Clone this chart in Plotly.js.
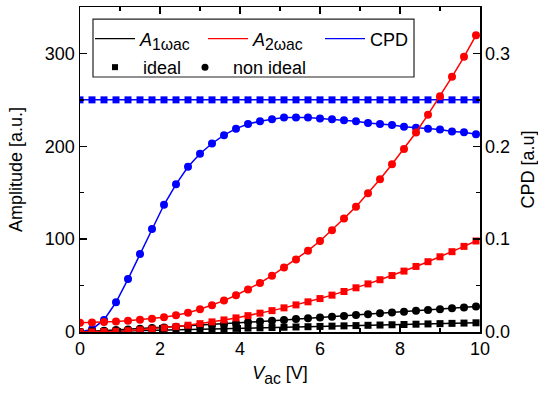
<!DOCTYPE html>
<html>
<head>
<meta charset="utf-8">
<script src="https://cdn.plot.ly/plotly-3.0.1.min.js"></script>
<style>
  html, body { margin: 0; padding: 0; background: #fff; }
  #chart { width: 538px; height: 394px; }
</style>
</head>
<body>
<div id="chart"></div>
<script>
// AC bias amplitude sweep (V)
const vac = [0.0, 0.3, 0.6, 0.9, 1.2, 1.5, 1.8, 2.1, 2.4, 2.7, 3.0, 3.3, 3.6, 3.9, 4.2, 4.5, 4.8,
             5.1, 5.4, 5.7, 6.0, 6.3, 6.6, 6.9, 7.2, 7.5, 7.8, 8.1, 8.4, 8.7, 9.0, 9.3, 9.6, 9.9];

// First harmonic amplitude A1ωac (a.u.)
const a1Ideal = [0.0, 0.3, 0.6, 0.9, 1.2, 1.5, 1.8, 2.1, 2.4, 2.7, 3.0, 3.3, 3.6, 3.9, 4.2, 4.5, 4.8,
                 5.1, 5.4, 5.7, 6.0, 6.3, 6.6, 6.9, 7.2, 7.5, 7.8, 8.1, 8.4, 8.7, 9.0, 9.3, 9.6, 9.9];
const a1NonIdeal = [0.0, 0.7, 1.4, 2.1, 2.8, 3.5, 4.2, 4.9, 5.6, 6.3, 7.0, 7.7, 8.6, 9.5, 10.4, 11.2, 12.0,
                    13.0, 13.9, 14.8, 15.6, 16.5, 17.3, 18.3, 19.2, 20.1, 21.0, 21.9, 22.8, 23.7, 24.6, 25.5, 26.5, 27.5];

// Second harmonic amplitude A2ωac (a.u.)
const a2Ideal = [0.0, 0.1, 0.4, 0.8, 1.4, 2.3, 3.2, 4.4, 5.8, 7.3, 9.0, 10.9, 13.0, 15.2, 17.6, 20.3, 23.0,
                 26.0, 29.2, 32.5, 36.0, 39.7, 43.6, 47.6, 51.8, 56.3, 60.8, 65.6, 70.6, 75.7, 81.0, 86.5, 92.2, 98.0];
const a2NonIdeal = [10.0, 10.3, 10.8, 11.4, 12.2, 13.2, 14.4, 16.0, 18.0, 20.8, 24.5, 28.8, 33.8, 39.6, 45.8, 52.8, 60.7,
                    69.4, 78.0, 87.6, 98.0, 109.6, 122.2, 135.0, 149.4, 164.5, 180.6, 197.2, 214.8, 234.0, 253.8, 274.8, 296.4, 319.5];

// Contact potential difference (a.u.)
const cpdIdeal = [0.25, 0.25, 0.25, 0.25, 0.25, 0.25, 0.25, 0.25, 0.25, 0.25, 0.25, 0.25, 0.25, 0.25, 0.25, 0.25, 0.25,
                  0.25, 0.25, 0.25, 0.25, 0.25, 0.25, 0.25, 0.25, 0.25, 0.25, 0.25, 0.25, 0.25, 0.25, 0.25, 0.25, 0.25];
const cpdNonIdeal = [0.000, 0.003, 0.013, 0.032, 0.057, 0.084, 0.111, 0.137, 0.159, 0.178, 0.192, 0.203, 0.212, 0.219, 0.224, 0.227, 0.229,
                     0.231, 0.231, 0.231, 0.230, 0.229, 0.228, 0.227, 0.225, 0.224, 0.223, 0.221, 0.220, 0.219, 0.218, 0.216, 0.215, 0.213];

// Legend labels (subscripts set a little larger than the default 70%)
const SUB = (t) => '<span style="font-size:22.5px"><sub>' + t + '</sub></span>';
const seriesNames = ['<i>A</i>' + SUB('1ωac'), '<i>A</i>' + SUB('2ωac'), 'CPD'];
const caseNames = ['ideal', 'non ideal'];

const BLACK = '#000000', RED = '#ff0000', BLUE = '#0000ff';
const FONT = 'Liberation Sans, Arial, Helvetica, sans-serif';

function series(y, color, symbol, yaxis) {
  return {
    x: vac, y: y, yaxis: yaxis, type: 'scatter', mode: 'lines+markers',
    line: { color: color, width: 1.5 },
    marker: { color: color, symbol: symbol, size: symbol === 'square' ? 7 : 8 },
    showlegend: false, hoverinfo: 'skip'
  };
}

function lineKey(name, color, legend) {
  return { x: [null], y: [null], mode: 'lines', name: name, line: { color: color, width: 1.2 }, legend: legend };
}
function markerKey(name, symbol, size, legend) {
  return { x: [null], y: [null], mode: 'markers', name: name, marker: { color: BLACK, symbol: symbol, size: size }, legend: legend };
}

const traces = [
  // CPD on the right-hand axis (drawn first, underneath)
  series(cpdIdeal, BLUE, 'square', 'y'),
  series(cpdNonIdeal, BLUE, 'circle', 'y'),
  // amplitudes on the left-hand axis
  series(a1Ideal, BLACK, 'square', 'y2'),
  series(a1NonIdeal, BLACK, 'circle', 'y2'),
  series(a2Ideal, RED, 'square', 'y2'),
  series(a2NonIdeal, RED, 'circle', 'y2'),
  // legend keys: a row of line colours, then a row of marker shapes
  lineKey(seriesNames[0], BLACK, 'legend'),
  lineKey(seriesNames[1], RED, 'legend4'),
  lineKey(seriesNames[2], BLUE, 'legend5'),
  markerKey(caseNames[0], 'square', 6, 'legend2'),
  markerKey(caseNames[1], 'circle', 7, 'legend3')
];

const axisCommon = {
  showgrid: false, zeroline: false,
  showline: true, linecolor: '#000', linewidth: 1.5,
  ticks: 'inside', ticklen: 7, tickwidth: 1.3, tickcolor: '#000',
  tickfont: { family: FONT, size: 18, color: '#000' }
};

const legendCommon = {
  orientation: 'h', xanchor: 'left', yanchor: 'middle',
  bgcolor: 'rgba(0,0,0,0)', borderwidth: 0,
  font: { family: FONT, size: 18, color: '#000' }
};
const ROW1 = 0.902, ROW2 = 0.814;

const layout = {
  width: 538, height: 394,
  margin: { l: 80, r: 58, t: 7, b: 62 },
  paper_bgcolor: '#fff', plot_bgcolor: '#fff',
  font: { family: FONT, size: 18, color: '#000' },
  xaxis: Object.assign({}, axisCommon, {
    range: [0, 10], dtick: 2, tick0: 0, mirror: 'ticks',
    minor: { dtick: 1, ticks: 'inside', ticklen: 4, tickwidth: 1.3, tickcolor: '#000' },
    title: { text: '<i>V</i>' + SUB('ac') + ' [V]', font: { family: FONT, size: 18 }, standoff: 8 }
  }),
  yaxis: Object.assign({}, axisCommon, {
    side: 'right', range: [0, 0.35], dtick: 0.1, tick0: 0, tickformat: '.1f',
    minor: { dtick: 0.05, ticks: 'inside', ticklen: 4, tickwidth: 1.3, tickcolor: '#000' },
    title: { text: 'CPD [a.u]', font: { family: FONT, size: 18 }, standoff: 13 }
  }),
  yaxis2: Object.assign({}, axisCommon, {
    side: 'left', overlaying: 'y', range: [0, 350], dtick: 100, tick0: 0,
    minor: { dtick: 50, ticks: 'inside', ticklen: 4, tickwidth: 1.3, tickcolor: '#000' },
    title: { text: 'Amplitude [a.u.]', font: { family: FONT, size: 18 }, standoff: 17 }
  }),
  legend: Object.assign({}, legendCommon, { x: 0.025, y: ROW1, itemwidth: 40 }),
  legend4: Object.assign({}, legendCommon, { x: 0.3075, y: ROW1, itemwidth: 40 }),
  legend5: Object.assign({}, legendCommon, { x: 0.6, y: ROW1, itemwidth: 40 }),
  legend2: Object.assign({}, legendCommon, { x: 0.0175, y: ROW2, itemwidth: 46 }),
  legend3: Object.assign({}, legendCommon, { x: 0.2425, y: ROW2, itemwidth: 46 }),
  shapes: [{
    type: 'rect', xref: 'paper', yref: 'paper',
    x0: 0.0325, x1: 0.835, y0: 0.7846, y1: 0.963,
    line: { color: '#222', width: 1.2 }, fillcolor: 'rgba(0,0,0,0)'
  }]
};

Plotly.newPlot('chart', traces, layout, { staticPlot: true, displayModeBar: false });
</script>
</body>
</html>
